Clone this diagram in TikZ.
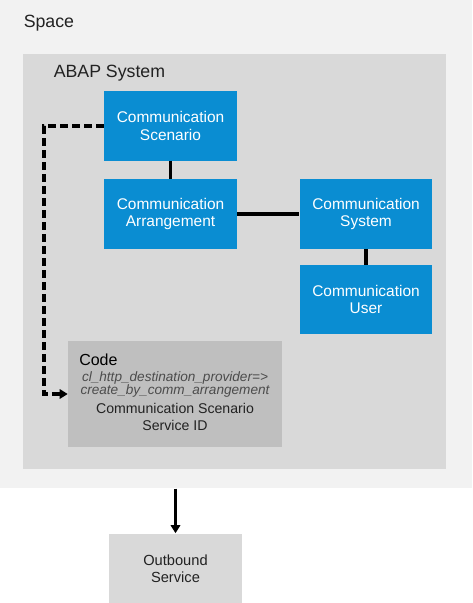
\documentclass[tikz,border=0pt]{standalone}
\usepackage{fontspec}
\setmainfont{Liberation Sans}
\usetikzlibrary{positioning,arrows.meta}

\definecolor{spacegray}{HTML}{F2F2F2}
\definecolor{abapgray}{HTML}{D9D9D9}
\definecolor{codegray}{HTML}{BFBFBF}
\definecolor{sapblue}{HTML}{0A8DD2}
\definecolor{textgray}{HTML}{222222}

\begin{document}
\begin{tikzpicture}[
    x=0.75pt, y=-0.75pt,
    area/.style={draw=none, inner sep=0pt, anchor=north west},
    comm/.style={fill=sapblue, text=white, minimum width=99.5pt, minimum height=52pt,
                 inner sep=0pt, align=center, font=\fontsize{11.6}{12.8}\selectfont},
    title/.style={anchor=west, inner sep=0pt, text=textgray, font=\fontsize{13.3}{15}\selectfont},
    link/.style={draw, line width=2.5pt, color=black},
    dashlink/.style={draw, line width=2.5pt, dash pattern=on 6pt off 3pt, -{Triangle[length=6pt,width=7pt]}},
    arrow/.style={draw, line width=2.5pt, -{Triangle[length=6pt,width=7pt]}}
]
\useasboundingbox (0,0) rectangle (472,603);

% Define background areas
\node[area, fill=spacegray, minimum width=354pt, minimum height=366pt] (space) at (0,0) {};
\node[area, fill=abapgray, minimum width=317.25pt, minimum height=311.25pt] (abap) at (23,54) {};
\node[title] (spacelabel) at (23.5,23.5) {Space};
\node[title] (abaplabel) at (53.5,73.5) {ABAP System};

% Define communication nodes
\node[comm] (scen) at (170.5,126) {Communication\\Scenario};
\node[comm] (arr) at (170.5,214) {Communication\\Arrangement};
\node[comm] (sys) at (366,214) {Communication\\System};
\node[comm, minimum height=51.5pt] (user) at (366,299.5) {Communication\\User};

% Code box
\node[fill=codegray, minimum width=160.5pt, minimum height=79.5pt, inner sep=0pt] (code) at (175,394) {};
\node[title, font=\fontsize{12}{14}\selectfont, text=black] (codelabel) at (79,359.5) {Code};
\node[align=center, inner sep=0pt, text=black!70, font=\itshape\fontsize{10.2}{10}\selectfont] (codecall) at (175,384.5)
    {cl\_http\_destination\_provider=>\\create\_by\_comm\_arrangement};
\node[align=center, inner sep=0pt, text=textgray, font=\fontsize{10.6}{12.2}\selectfont] (codeid) at (175,417)
    {Communication Scenario\\Service ID};

% Outbound service
\node[fill=abapgray, minimum width=99.75pt, minimum height=52.5pt, inner sep=0pt, align=center,
      text=textgray, font=\fontsize{11}{12.5}\selectfont] (out) at (175.5,568.5) {Outbound\\Service};

% Draw connections
\draw[link] (scen) -- (arr);
\draw[link] (arr) -- (sys);
\draw[link] (sys) -- (user);
\draw[dashlink] (scen.west) -- ++(-60,0) |- (code.west);
\draw[arrow] (space.south -| out.north) -- (out.north);

\end{tikzpicture}
\end{document}
